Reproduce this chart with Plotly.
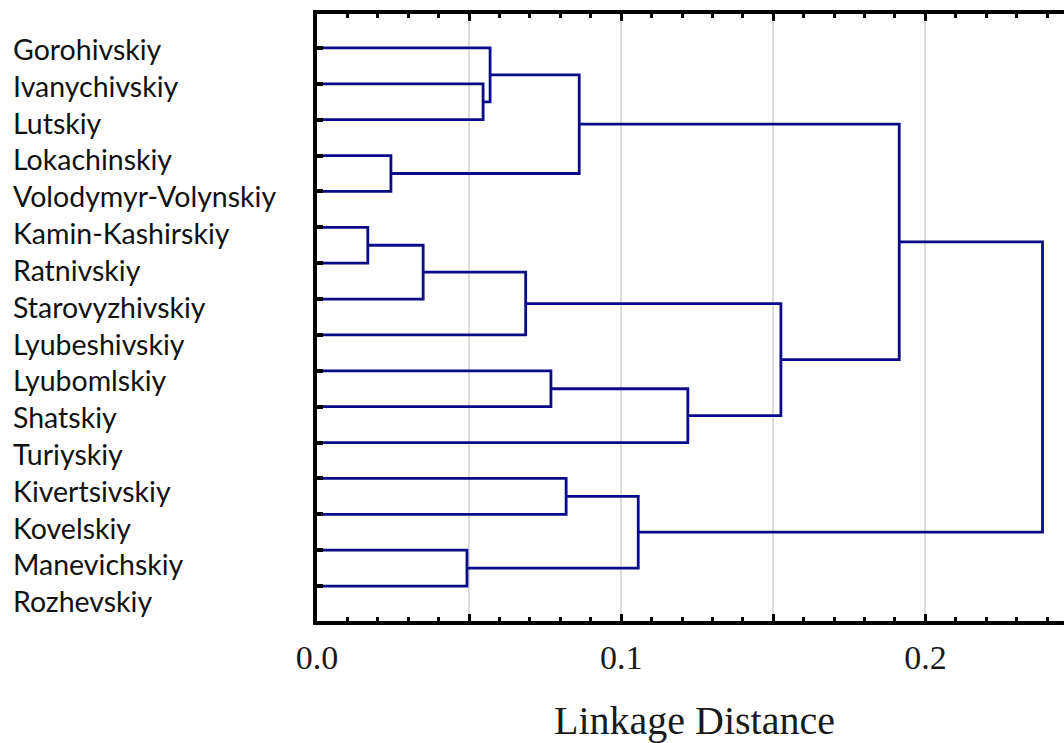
import plotly.graph_objects as go

leaves = ["Gorohivskiy", "Ivanychivskiy", "Lutskiy", "Lokachinskiy", "Volodymyr-Volynskiy",
          "Kamin-Kashirskiy", "Ratnivskiy", "Starovyzhivskiy", "Lyubeshivskiy", "Lyubomlskiy",
          "Shatskiy", "Turiyskiy", "Kivertsivskiy", "Kovelskiy", "Manevichskiy", "Rozhevskiy"]

# merges: (cluster a, cluster b, linkage distance); new cluster ids start at 16
merge_a = [1, 0, 3, 17, 5, 20, 21, 9, 23, 22, 19, 12, 14, 27, 26]
merge_b = [2, 16, 4, 18, 6, 7, 8, 10, 11, 24, 25, 13, 15, 28, 29]
merge_h = [0.0546, 0.0569, 0.0243, 0.0862, 0.0167, 0.0349, 0.0686, 0.0769, 0.1219,
           0.1525, 0.1914, 0.0819, 0.0493, 0.1056, 0.2385]

x_ticks = [0.0, 0.05, 0.1, 0.15, 0.2]
x_ticktext = ["0.0", "", "0.1", "", "0.2"]

# figure geometry
W, H = 1064, 743
ML, MT = 317, 14
MB = 121.5
plot_h = H - MT - MB
px_per_unit = 3042.0
leaf0_px, leaf_step = 48.0, 35.9

pos_x = {i: 0.0 for i in range(len(leaves))}
pos_y = {i: float(i) for i in range(len(leaves))}

fig = go.Figure()
LINE = dict(color="#0b0b8a", width=2.8)
for k, (a, b, h) in enumerate(zip(merge_a, merge_b, merge_h)):
    nid = len(leaves) + k
    fig.add_trace(go.Scatter(
        x=[pos_x[a], h, h, pos_x[b]],
        y=[pos_y[a], pos_y[a], pos_y[b], pos_y[b]],
        mode="lines", line=LINE, hoverinfo="skip", showlegend=False))
    pos_x[nid] = h
    pos_y[nid] = (pos_y[a] + pos_y[b]) / 2.0

x_max = (W - ML) / px_per_unit
y_top = -(leaf0_px - MT) / leaf_step
y_bot = (H - MB - leaf0_px) / leaf_step

fig.update_layout(
    width=W, height=H,
    margin=dict(l=ML, r=0, t=MT, b=MB, pad=0),
    plot_bgcolor="white", paper_bgcolor="white",
    showlegend=False,
    xaxis=dict(range=[0, x_max], tickvals=x_ticks, ticktext=x_ticktext,
               showgrid=True, gridcolor="#dddddd", gridwidth=1.5,
               zeroline=False, showline=True, linecolor="black", linewidth=3.5,
               mirror="allticks", ticks="inside", ticklen=7, tickwidth=3, tickcolor="black",
               minor=dict(dtick=0.01, ticks="inside", ticklen=4, tickwidth=2.5,
                          tickcolor="black", showgrid=False),
               tickfont=dict(family="Liberation Serif", size=34, color="#1a1a1a"),
               ticklabelstandoff=3),
    yaxis=dict(range=[y_bot, y_top], tickvals=list(range(len(leaves))),
               showticklabels=False, showgrid=False, zeroline=False,
               showline=True, linecolor="black", linewidth=3.5, mirror=False,
               ticks="inside", ticklen=6, tickwidth=3.5, tickcolor="black"),
)

def px_to_paper_x(px):
    return (px - ML) / (W - ML)

def px_to_paper_y(py):
    return (H - MB - py) / plot_h

for i, name in enumerate(leaves):
    fig.add_annotation(text=name, xref="paper", yref="paper",
                       x=px_to_paper_x(11), y=px_to_paper_y(49 + i * 36.85),
                       xanchor="left", yanchor="middle", showarrow=False,
                       font=dict(family="Lato", size=28.5, color="#111111"))

fig.add_annotation(text="Linkage Distance", xref="paper", yref="paper",
                   x=px_to_paper_x(694), y=px_to_paper_y(721),
                   xanchor="center", yanchor="middle", showarrow=False,
                   font=dict(family="Liberation Serif", size=40, color="#1a1a1a"))

fig.write_html("out.html")
